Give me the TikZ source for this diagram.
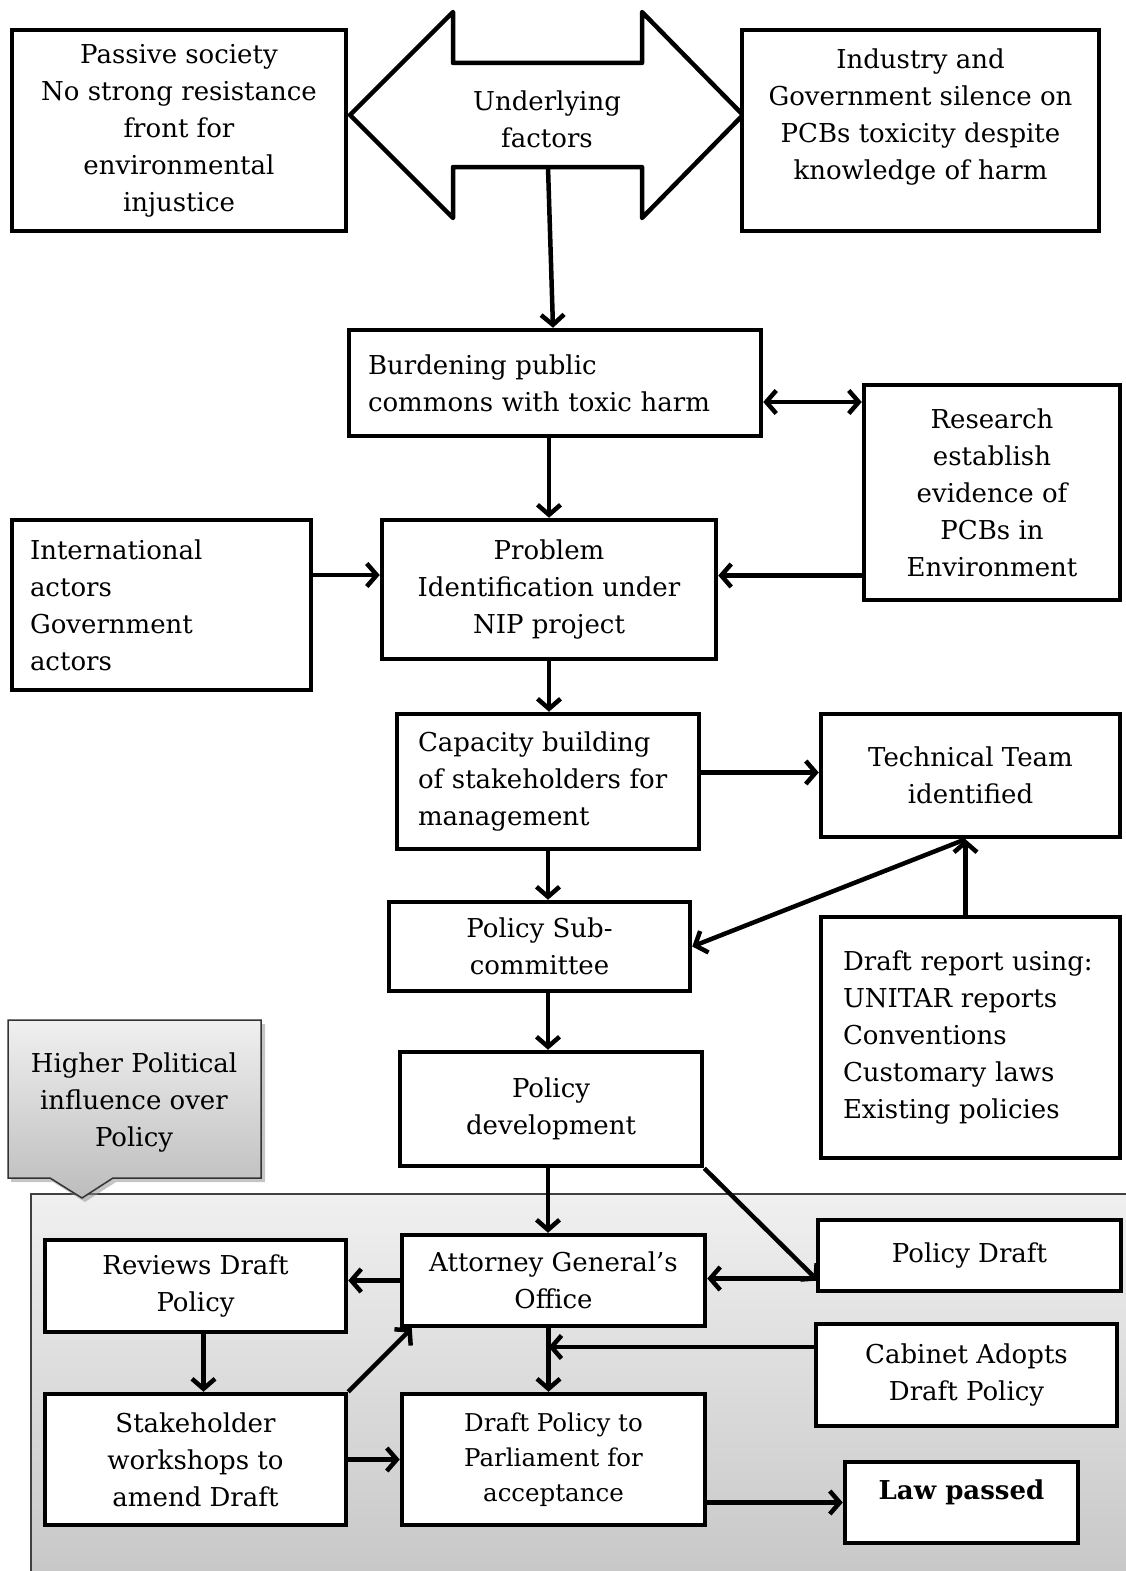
\documentclass[tikz,border=0pt]{standalone}
\usepackage{fontspec}
\setmainfont{DejaVu Serif}
\usetikzlibrary{arrows.meta,calc}
\begin{document}
\begin{tikzpicture}[x=1pt,y=-1pt,
 txt/.style={font=\fontsize{26}{37}\selectfont, inner sep=0pt, align=center},
 box/.style={txt, draw, line width=4.5pt, fill=white},
 arr/.style={line width=4.5pt, -{Straight Barb[length=10pt,width=23pt]}},
 darr/.style={line width=4.5pt, {Straight Barb[length=10pt,width=23pt]}-{Straight Barb[length=10pt,width=23pt]}},
]
\useasboundingbox (0,0) rectangle (1125,1571);

% shaded region at the bottom
\draw[draw=black!75, line width=1.5pt, top color=black!6, bottom color=black!22]
  (31,1194) rectangle (1135,1580);

% callout
\fill[black!45, opacity=0.5] (11,1024) -- (265,1024) -- (265,1182) -- (116,1182) -- (85,1202) -- (53,1182) -- (11,1182) -- cycle;
\draw[draw=black!80, line width=1.5pt, top color=black!6, bottom color=black!26]
  (8,1020) -- (261,1020) -- (261,1178) -- (113,1178) -- (82,1198) -- (50,1178) -- (8,1178) -- cycle;
\node[txt] (hpi) at (134,1102) {Higher Political\\influence over\\Policy};

% double arrow
\draw[line width=4.5pt, line join=round, fill=white]
  (350,115) -- (453,12) -- (453,63) -- (642,63) -- (642,12) -- (743,115)
  -- (642,218) -- (642,167) -- (453,167) -- (453,218) -- cycle;
\node[txt] (uf) at (547,119) {Underlying\\factors};
\coordinate (ufb) at (548,167);

% top boxes
\node[box, minimum width=334pt, minimum height=201pt] (pas) at (179,130.5)
  {Passive society\\No strong resistance\\front for\\environmental\\injustice};
\node[box, minimum width=357pt, minimum height=201pt] (ind) at (920.5,130.5) {};
\node[txt, anchor=north] (indt) at (920.5,49)
  {Industry and\\Government silence on\\PCBs toxicity despite\\knowledge of harm};

\node[box, minimum width=412pt, minimum height=106pt, text width=374pt, inner xsep=19pt, align=left] (burd) at (555,383)
  {Burdening public\\commons with toxic harm};
\node[box, minimum width=256pt, minimum height=215pt] (res) at (992,492.5)
  {Research\\establish\\evidence of\\PCBs in\\Environment};
\node[box, minimum width=299pt, minimum height=170pt, text width=263pt, inner xsep=18pt, align=left] (intl) at (161.5,605)
  {International\\actors\\Government\\actors};
\node[box, minimum width=334pt, minimum height=139pt] (prob) at (549,589.5)
  {Problem\\Identification under\\NIP project};
\node[box, minimum width=302pt, minimum height=135pt, text width=260pt, inner xsep=21pt, align=left] (cap) at (548,781.5)
  {Capacity building\\of stakeholders for\\management};
\node[box, minimum width=299pt, minimum height=123pt] (tech) at (970.5,775.5)
  {Technical Team\\identified};
\node[box, minimum width=301pt, minimum height=89pt] (psub) at (539.5,946.5)
  {Policy Sub-\\committee};
\node[box, minimum width=299pt, minimum height=241pt, text width=255pt, inner xsep=22pt, align=left] (draft) at (970.5,1037.5)
  {Draft report using:\\UNITAR reports\\Conventions\\Customary laws\\Existing policies};
\node[box, minimum width=302pt, minimum height=114pt] (pdev) at (551,1109)
  {Policy\\development};

% bottom boxes
\node[box, minimum width=303pt, minimum height=91pt] (ag) at (553.5,1280.5)
  {Attorney General’s\\Office};
\node[box, minimum width=301pt, minimum height=92pt] (rev) at (195.5,1286)
  {Reviews Draft\\Policy};
\node[box, minimum width=303pt, minimum height=71pt] (pdraft) at (969.5,1255.5)
  {Policy Draft};
\node[box, minimum width=301pt, minimum height=102pt] (cab) at (966.5,1375)
  {Cabinet Adopts\\Draft Policy};
\node[box, minimum width=301pt, minimum height=131pt] (stk) at (195.5,1459.5)
  {Stakeholder\\workshops to\\amend Draft};
\node[box, minimum width=303pt, minimum height=131pt, font=\fontsize{24.5}{35}\selectfont] (dpp) at (553.5,1459.5)
  {Draft Policy to\\Parliament for\\acceptance};
\node[box, minimum width=233pt, minimum height=81pt, font=\fontsize{26}{37}\selectfont\bfseries] (law) at (961.5,1502.5)
  {Law passed\\[-12pt]};

% connectors
\draw[arr] (ufb) -- ([xshift=-2pt]burd.north);
\draw[darr] ([yshift=-19pt]burd.east) -- ([yshift=-19pt]burd.east -| res.west);
\draw[arr] (prob.north |- burd.south) -- (prob.north);
\draw[arr] ([yshift=30pt]intl.east) -- ([yshift=30pt]intl.east -| prob.west);
\draw[arr] ([yshift=-83pt]res.west) -- ([yshift=-83pt]res.west -| prob.east);
\draw[arr] (prob.south) -- (prob.south |- cap.north);
\draw[arr] ([yshift=9pt]cap.east) -- ([yshift=9pt]cap.east -| tech.west);
\draw[arr] (cap.south) -- (cap.south |- psub.north);
\draw[arr] ([xshift=-5pt]draft.north) -- ([xshift=-5pt]tech.south);
\draw[arr] ([xshift=-5pt]tech.south) -- (psub.east);
\draw[arr] ([xshift=-3pt]pdev.north |- psub.south) -- ([xshift=-3pt]pdev.north);
\draw[arr] ([xshift=-3pt]pdev.south) -- ([xshift=-3pt]pdev.south |- ag.north);
\draw[arr] (pdev.south east) -- ([xshift=2pt,yshift=-25pt]pdraft.west);
\draw[arr] ([yshift=-23pt]pdraft.west) -- ([yshift=-23pt]pdraft.west -| ag.east);
\draw[arr] (ag.west) -- (ag.west -| rev.east);
\draw[arr] ([xshift=8pt]rev.south) -- ([xshift=8pt]stk.north);
\draw[arr] (stk.north east) -- ([xshift=12pt]ag.south west);
\draw[arr] ([xshift=-5pt]ag.south) -- ([xshift=-5pt]dpp.north);
\draw[arr] ([yshift=28pt]cab.west) -- ([xshift=-5pt,yshift=28pt]cab.west -| ag.south);
\draw[arr] (stk.east) -- (stk.east -| dpp.west);
\draw[arr] (law.west -| dpp.east) -- (law.west);
\end{tikzpicture}
\end{document}
